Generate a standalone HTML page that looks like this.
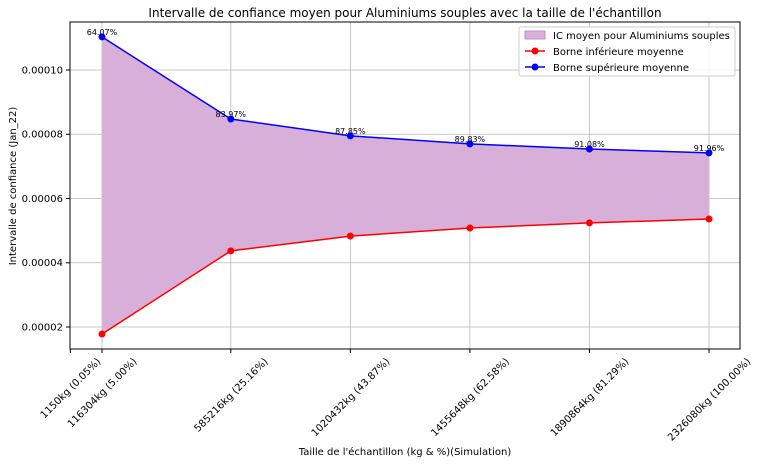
<!DOCTYPE html>
<html><head><meta charset="utf-8"><style>
body{margin:0;background:#fff;}
svg{font-family:"DejaVu Sans","Liberation Sans",sans-serif;}
</style></head><body>
<svg id="chart" width="759" height="463" xmlns="http://www.w3.org/2000/svg"></svg>
<script>
const xTicksKg=[1150,116304,585216,1020432,1455648,1890864,2326080];
const xTickLabels=["1150kg (0.05%)","116304kg (5.00%)","585216kg (25.16%)","1020432kg (43.87%)","1455648kg (62.58%)","1890864kg (81.29%)","2326080kg (100.00%)"];
const pointsKg=[116304,585216,1020432,1455648,1890864,2326080];
const upper=[0.0001103,0.00008475,0.0000795,0.0000770,0.0000754,0.0000742];
const lower=[0.0000178,0.0000437,0.0000483,0.0000508,0.0000524,0.0000536];
const pctLabels=["64.07%","83.97%","87.85%","89.83%","91.08%","91.96%"];
const yTicks=[0.00002,0.00004,0.00006,0.00008,0.00010];
const yTickLabels=["0.00002","0.00004","0.00006","0.00008","0.00010"];

const L=70,R=740,T=22,B=349;
const xmin=-192,xmax=2438953,ymin=0.00001315,ymax=0.00011494;
const X=v=>L+(v-xmin)/(xmax-xmin)*(R-L);
const Y=v=>B-(v-ymin)/(ymax-ymin)*(B-T);
const svg=document.getElementById('chart');
const NS="http://www.w3.org/2000/svg";
function mk(tag,attrs,parent){const e=document.createElementNS(NS,tag);for(const k in attrs)e.setAttribute(k,attrs[k]);(parent||svg).appendChild(e);return e;}

let t=mk('text',{x:405,y:17,'text-anchor':'middle','font-size':12});


t.textContent="Intervalle de confiance moyen pour Aluminiums souples avec la taille de l'échantillon";

xTicksKg.forEach((v,i)=>{if(i===0)return;const g=mk('line',{x1:X(v),x2:X(v),y1:T,y2:B,stroke:'#b8b8b8','stroke-width':0.8});

});
yTicks.forEach(v=>{const g=mk('line',{x1:L,x2:R,y1:Y(v),y2:Y(v),stroke:'#b8b8b8','stroke-width':0.8});

});

let pts=pointsKg.map((k,i)=>X(k)+','+Y(upper[i]));
for(let i=pointsKg.length-1;i>=0;i--)pts.push(X(pointsKg[i])+','+Y(lower[i]));
let f=mk('polygon',{points:pts.join(' '),fill:'#d8afd8'});



function series(vals,color,name){
  const p=mk('polyline',{points:pointsKg.map((k,i)=>X(k)+','+Y(vals[i])).join(' '),fill:'none',stroke:color,'stroke-width':1.5});
  
  
  pointsKg.forEach((k,i)=>{const c=mk('circle',{cx:X(k),cy:Y(vals[i]),r:3.5,fill:color});
  
  });
}
series(lower,'#ff0000','lower-bound');
series(upper,'#0000ff','upper-bound');

pointsKg.forEach((k,i)=>{const a=mk('text',{x:X(k),y:Y(upper[i])-2,'text-anchor':'middle','font-size':8});


a.textContent=pctLabels[i];});

let fr=mk('rect',{x:L,y:T,width:R-L,height:B-T,fill:'none',stroke:'#000','stroke-width':1});



xTicksKg.forEach((v,i)=>{const x=X(v);mk('line',{x1:x,x2:x,y1:B,y2:B+4,stroke:'#000'});
  const tx=mk('text',{x:0,y:0,'text-anchor':'middle','font-size':10});
  
  
  tx.textContent=xTickLabels[i];
  const w=tx.getComputedTextLength();
  const cy=B+7+(w+10)*0.7071/2;
  tx.setAttribute('x',x);tx.setAttribute('y',cy+3.5);
  tx.setAttribute('transform',`rotate(-45 ${x} ${cy})`);});
yTicks.forEach((v,i)=>{const y=Y(v);mk('line',{x1:L-4,x2:L,y1:y,y2:y,stroke:'#000'});
  const ty=mk('text',{x:L-7,y:y+3.5,'text-anchor':'end','font-size':10});
  
  
  ty.textContent=yTickLabels[i];});

let xl=mk('text',{x:405,y:455,'text-anchor':'middle','font-size':10});


xl.textContent="Taille de l'échantillon (kg & %)(Simulation)";
let yl=mk('text',{x:16,y:186,'text-anchor':'middle','font-size':10,transform:'rotate(-90 16 186)'});


yl.textContent="Intervalle de confiance (Jan_22)";

const lg=mk('g',{});


mk('rect',{x:519,y:27,width:216,height:49,fill:'#fff','fill-opacity':0.85,stroke:'#ccc',rx:2},lg);
mk('rect',{x:525,y:31,width:20,height:8,fill:'#d8afd8',stroke:'#c090c0'},lg);
mk('line',{x1:525,x2:545,y1:51,y2:51,stroke:'#ff0000','stroke-width':1.5},lg);
mk('circle',{cx:535,cy:51,r:3.5,fill:'#ff0000'},lg);
mk('line',{x1:525,x2:545,y1:67,y2:67,stroke:'#0000ff','stroke-width':1.5},lg);
mk('circle',{cx:535,cy:67,r:3.5,fill:'#0000ff'},lg);
[["IC moyen pour Aluminiums souples",39],["Borne inférieure moyenne",55],["Borne supérieure moyenne",71]].forEach(([s,y])=>{
  const e=mk('text',{x:553,y:y,'font-size':10},lg);
  
  
  e.textContent=s;});
</script>
</body></html>
